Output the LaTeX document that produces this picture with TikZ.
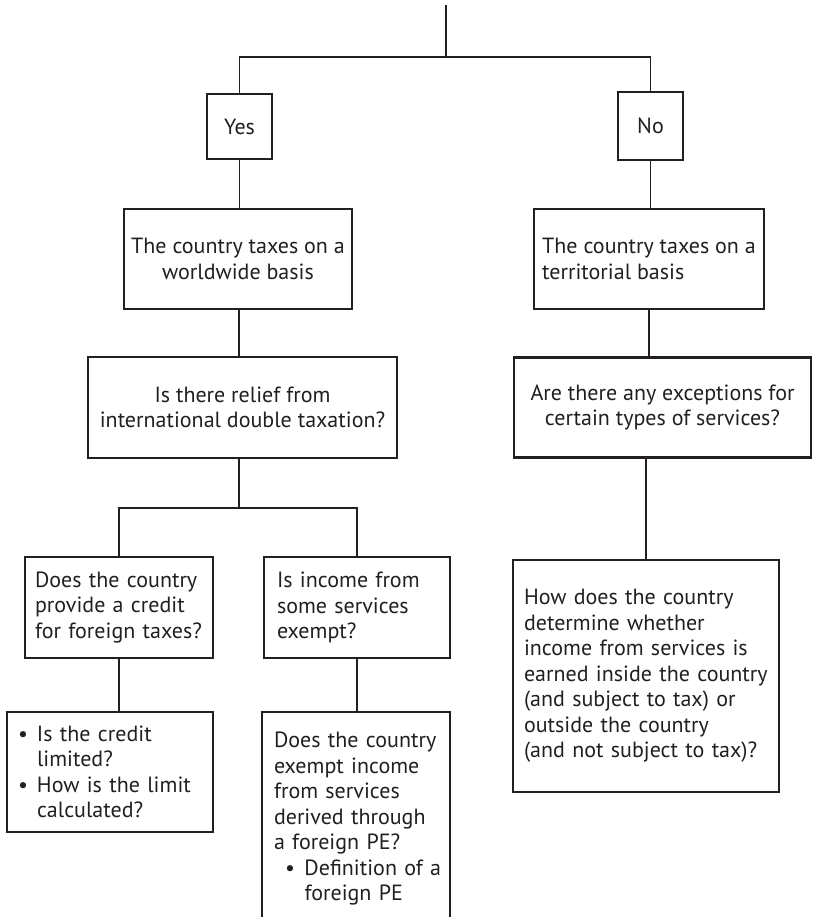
\documentclass[tikz,border=0pt]{standalone}
\usepackage{fontspec}
\setmainfont{PT Sans}
\definecolor{ink}{HTML}{231F20}
\newcommand{\bulbox}[1]{\makebox[#1][l]{\textbullet}}

\begin{document}
\begin{tikzpicture}[x=1pt, y=-1pt,
    frame/.style={draw=ink, text=ink, line width=2.4pt, inner ysep=0pt,
        font=\fontsize{22}{25.5}\selectfont},
    link/.style={draw=ink, line width=1.2pt}]
    \clip (0,0) rectangle (814,917);
    \begin{scope} % Answer boxes
        \coordinate (top) at (446,5);
        \coordinate (split) at (446,57);
        \node[frame, minimum width=65, minimum height=65] (yes) at (239.5,126.5) {Yes};
        \node[frame, minimum width=65, minimum height=68] (no) at (650.5,126) {No};
    \end{scope}
    \begin{scope} % Worldwide branch
        \node[frame, align=center, minimum width=228, minimum height=100]
            (world) at (238,259) {The country taxes on a\\worldwide basis};
        \node[frame, align=center, minimum width=309, minimum height=101]
            (relief) at (242.5,407.5) {Is there relief from\\international double taxation?};
        \coordinate (split2) at (239,508);
        \node[frame, align=left, text width=168, inner xsep=10, minimum height=101]
            (credit) at (119,607.5) {Does the country\\provide a credit\\for foreign taxes?};
        \node[frame, align=left, text width=160, inner xsep=13, minimum height=101]
            (income) at (357,607.5) {Is income from\\some services\\exempt?};
        \node[frame, align=left, text width=184, inner xsep=11, minimum height=120]
            (limit) at (110,772) {\bulbox{19pt}Is the credit\\\hspace*{19pt}limited?\\
            \bulbox{19pt}How is the limit\\\hspace*{19pt}calculated?};
        \node[frame, anchor=north, align=left, text width=164, inner xsep=12, inner ysep=20]
            (pe) at (356,711) {Does the country\\exempt income\\from services\\derived through\\
            a foreign PE?\\\mbox{\hspace*{11pt}\bulbox{19.5pt}Definition of a}\\\hspace*{30.5pt}foreign PE};
    \end{scope}
    \begin{scope} % Territorial branch
        \node[frame, align=left, minimum width=230, minimum height=100]
            (terr) at (649,259) {The country taxes on a\\territorial basis};
        \node[frame, align=center, minimum width=297, minimum height=100]
            (except) at (662.5,407.5) {Are there any exceptions for\\certain types of services?};
        \node[frame, align=left, text width=244, inner xsep=11, minimum height=232]
            (det) at (646,676) {How does the country\\determine whether\\income from services is\\
            earned inside the country\\(and subject to tax) or\\outside the country\\(and not subject to tax)?};
    \end{scope}
    \begin{scope} % Connectors
        \draw[link] (top) -- (split);
        \draw[link] (yes.north) |- (split) -| (no.north);
        \draw[link] (yes.south) -- (yes.south |- world.north);
        \draw[link] (world.south -| split2) -- (split2 |- relief.north);
        \draw[link] (split2 |- relief.south) -- (split2);
        \draw[link] (credit.north) |- (split2) -| (income.north);
        \draw[link] (credit.south) -- (credit.south |- limit.north);
        \draw[link] (income.south) -- (income.south |- pe.north);
        \draw[link] (no.south) -- (no.south |- terr.north);
        \draw[link] (terr.south) -- (terr.south |- except.north);
        \draw[link] (det.north |- except.south) -- (det.north);
    \end{scope}
\end{tikzpicture}
\end{document}
